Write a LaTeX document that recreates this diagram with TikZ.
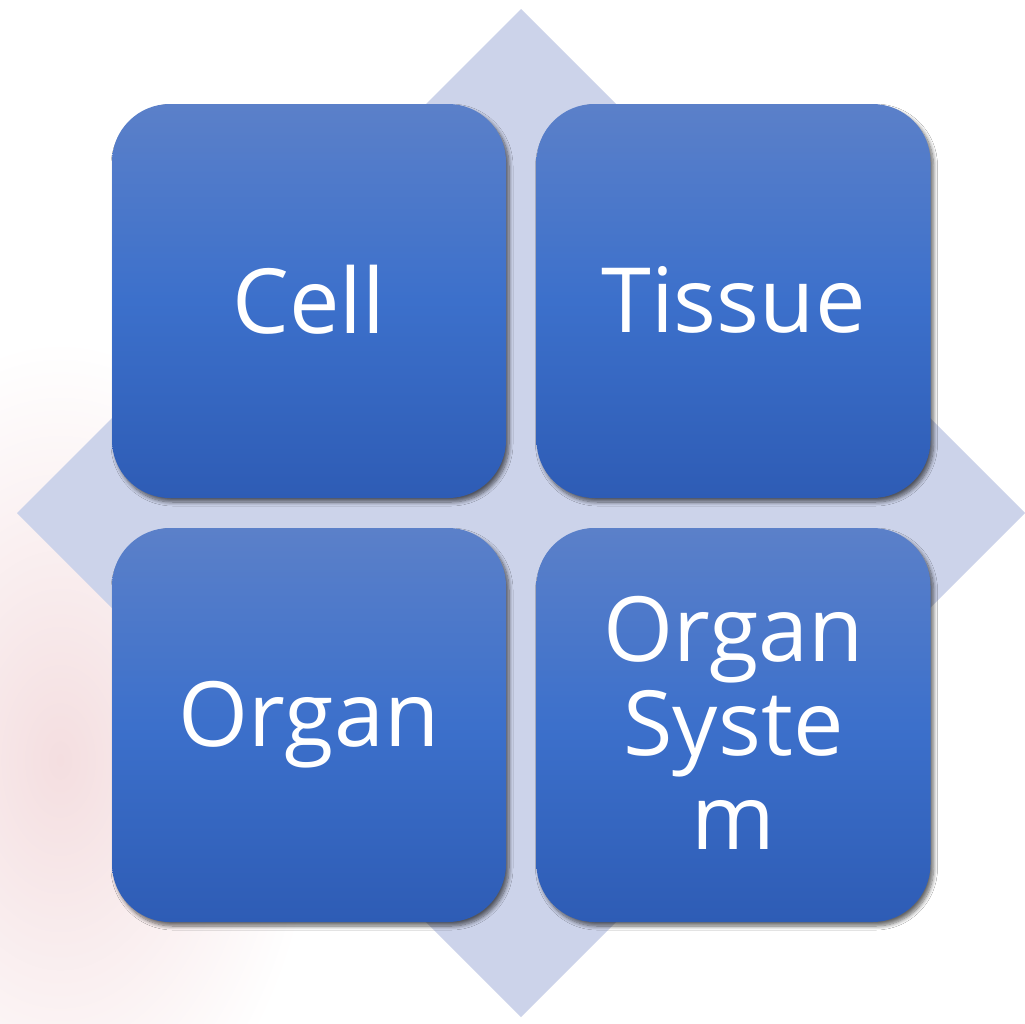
\documentclass[tikz,border=0pt]{standalone}
\usepackage{fontspec}
\setmainfont{Open Sans}
\usetikzlibrary{shadows.blur}
\definecolor{diam}{HTML}{CCD3EA}
\definecolor{btop}{HTML}{5B80C9}
\definecolor{bmid}{HTML}{3C70CB}
\definecolor{bbot}{HTML}{2E5CB5}
\definecolor{pinkbg}{HTML}{F4DEE0}
\tikzset{
  tile/.style={rounded corners=58pt, minimum width=394pt, minimum height=394pt,
    inner sep=0pt, top color=btop, bottom color=bbot, middle color=bmid,
    text=white, align=center,
    font=\fontsize{90}{94}\selectfont,
    blur shadow={shadow xshift=3pt, shadow yshift=-4pt, shadow blur radius=4pt, shadow blur steps=8, shadow opacity=60}},
}
\begin{document}
\begin{tikzpicture}[x=1pt,y=-1pt]
\useasboundingbox (0,0) rectangle (1025,1023);
\fill[white] (0,0) rectangle (1025,1023);
\begin{scope}
\clip (0,0) rectangle (1025,1023);
\shade[inner color=pinkbg, outer color=white] (60,760) ellipse (260pt and 420pt);
\end{scope}
\fill[diam] (521,9) -- (1025,513) -- (521,1017) -- (17,513) -- cycle;
\node[tile] (cell) at (309,301) {\raisebox{3pt}{Cell}};
\node[tile] (tissue) at (733.5,301) {\raisebox{3pt}{Tissue}};
\node[tile] (organ) at (309,725) {\raisebox{3pt}{Organ}};
\node[tile] (system) at (733.5,725) {\raisebox{4pt}{Organ}\\\raisebox{4pt}{Syste}\\\raisebox{4pt}{m}};
\end{tikzpicture}
\end{document}
